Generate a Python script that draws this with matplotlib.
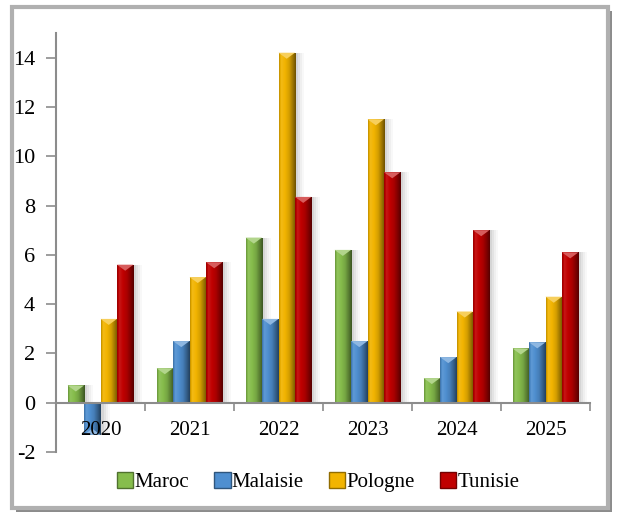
import numpy as np
import matplotlib
matplotlib.use("Agg")
import matplotlib.pyplot as plt
from matplotlib.patches import Rectangle, Polygon, FancyBboxPatch
from matplotlib.colors import to_rgb

plt.rcParams['font.family'] = ['Liberation Serif', 'DejaVu Serif']
plt.rcParams['axes.unicode_minus'] = False

years = ['2020', '2021', '2022', '2023', '2024', '2025']
maroc = [0.7, 1.4, 6.7, 6.2, 1.0, 2.2]
malaisie = [-1.3, 2.5, 3.4, 2.5, 1.85, 2.45]
pologne = [3.4, 5.1, 14.2, 11.5, 3.7, 4.3]
tunisie = [5.6, 5.7, 8.35, 9.35, 7.0, 6.1]

series = [('Maroc', maroc, '#86bd4c'),
          ('Malaisie', malaisie, '#4f8fd0'),
          ('Pologne', pologne, '#f2b400'),
          ('Tunisie', tunisie, '#c00000')]

# horizontal shading profile to fake the bevelled 3D look
profile_x = [0.0, 0.12, 0.35, 0.6, 0.85, 1.0]
profile_f = [0.78, 1.05, 1.0, 0.88, 0.62, 0.45]


def shade(color, f):
    c = np.array(to_rgb(color))
    if f > 1:
        return np.clip(c + (1 - c) * (f - 1) * 2, 0, 1)
    return c * f


def gradient_img(color):
    xs = np.linspace(0, 1, 64)
    fs = np.interp(xs, profile_x, profile_f)
    img = np.array([shade(color, f) for f in fs])
    return np.clip(img[np.newaxis, :, :], 0, 1)


fig = plt.figure(figsize=(6.17, 5.15), dpi=100)

# outer frame with shadow
fig.patches.append(FancyBboxPatch((16 / 617, 3 / 515), 596 / 617, 501 / 515,
                                  boxstyle='square,pad=0', transform=fig.transFigure,
                                  facecolor='#8c8c8c', edgecolor='none', zorder=-3))
fig.patches.append(FancyBboxPatch((12 / 617, 7 / 515), 596 / 617, 501 / 515,
                                  boxstyle='square,pad=0', transform=fig.transFigure,
                                  facecolor='white', edgecolor='#b0b0b0', linewidth=3,
                                  zorder=-2))

ax = fig.add_axes([56 / 617, 1 - 452 / 515, 534 / 617, 419 / 515])
ax.set_facecolor('none')

x = np.arange(len(years))
w = 0.185
px = 1.0 / 89          # one pixel in x data units
py = 1.0 / 24.5        # one pixel in y data units

ax.set_xlim(-0.5, len(years) - 0.5)
ax.set_ylim(-2, 15)

for k, (name, vals, col) in enumerate(series):
    xs = x + (k - 1.5) * w
    # soft shadow
    for s, a in [(3, 0.10), (5, 0.08), (7, 0.06), (9, 0.04)]:
        ax.bar(xs + s * px, vals, width=w, align='center', color='#606060',
               alpha=a, edgecolor='none', zorder=1)
    bars = ax.bar(xs, vals, width=w, color=col, edgecolor='none', zorder=2,
                  label=name)
    img = gradient_img(col)
    for b, v in zip(bars, vals):
        x0 = b.get_x()
        x1 = x0 + b.get_width()
        y0, y1 = sorted([0, v])
        im = ax.imshow(img, extent=[x0, x1, y0, y1], aspect='auto',
                       interpolation='bilinear', zorder=3)
        im.set_clip_path(b)
        # bevel cap at the bar end
        d = 6 * py if v >= 0 else -6 * py
        cap = Polygon([[x0, v], [x1, v], [(x0 + x1) / 2, v - d]], closed=True,
                      facecolor=shade(col, 1.18), edgecolor='none', zorder=4)
        ax.add_patch(cap)

ax.set_xlim(-0.5, len(years) - 0.5)
ax.set_ylim(-2, 15)

for s in ['top', 'right']:
    ax.spines[s].set_visible(False)
ax.spines['bottom'].set_position(('data', 0))
for s in ['left', 'bottom']:
    ax.spines[s].set_color('#8c8c8c')
    ax.spines[s].set_linewidth(1.5)
    ax.spines[s].set_zorder(5)

ax.set_yticks(np.arange(-2, 15, 2))
ax.set_xticks(np.arange(-0.5, len(years), 1.0))
ax.set_xticklabels([])
ax.set_xticks(x, minor=True)
ax.set_xticklabels(years, minor=True, fontsize=15)
ax.tick_params(axis='x', which='major', length=6, width=1.2, color='#8c8c8c',
               direction='out')
ax.tick_params(axis='x', which='minor', length=0, pad=13)
ax.tick_params(axis='y', length=7, width=1.2, color='#8c8c8c', labelsize=16,
               pad=8)
ax.xaxis.set_zorder(10)

handles = [Rectangle((0, 0), 1, 1, facecolor=c, edgecolor=shade(c, 0.6), linewidth=1)
           for _, _, c in series]
fig.legend(handles, [n for n, _, _ in series], loc='center',
           bbox_to_anchor=(318 / 617, 1 - 482 / 515), ncol=4, frameon=False,
           fontsize=15, handlelength=0.8, handleheight=0.8, handletextpad=0.05,
           columnspacing=1.2)

fig.savefig('out.png', dpi=100)
